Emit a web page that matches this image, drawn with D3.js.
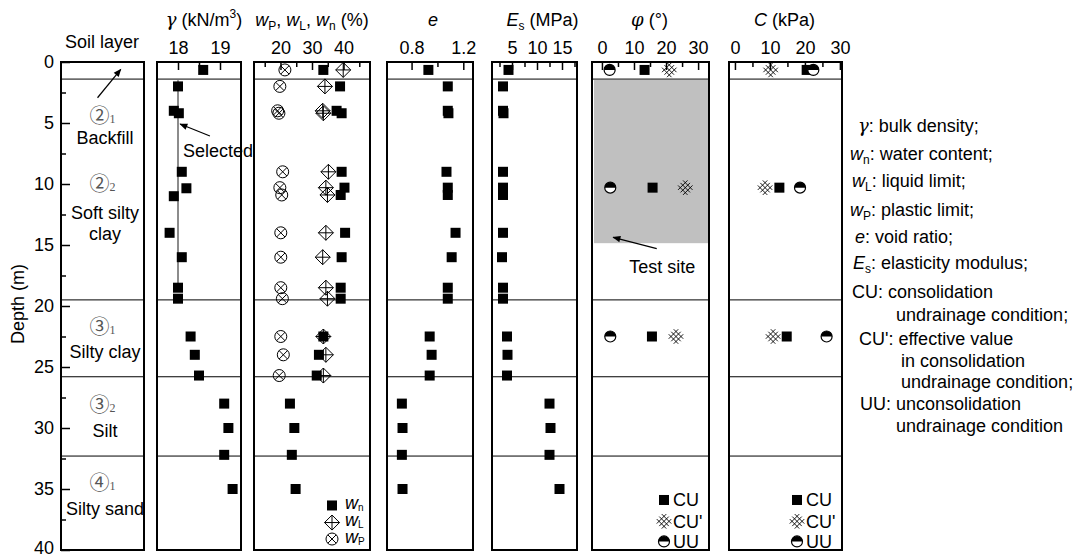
<!DOCTYPE html>
<html>
<head>
<script src="https://d3js.org/d3.v7.min.js"></script>
<style>
body { margin:0; background:#fff; }
svg text { font-family:"Liberation Sans", Arial, sans-serif; font-size:18px; fill:#000; }
.gr { font-family:"DejaVu Serif", "Liberation Serif", serif; font-style:italic; }
.circ { font-family:"Noto Sans CJK SC", "DejaVu Sans", sans-serif; fill:#555; }
</style>
</head>
<body>
<script>
// ---- data ----
var layerDepths = [1.4, 19.5, 25.8, 32.3];

var gammaDepth = [0.65, 2.0, 4.0, 4.2, 9.0, 10.35, 11.0, 14.0, 16.0, 18.5, 19.4, 22.5, 24.0, 25.7, 28.0, 30.0, 32.2, 35.0];
var gammaVal   = [18.6, 18.0, 17.9, 18.02, 18.09, 18.2, 17.9, 17.8, 18.09, 18.0, 18.0, 18.3, 18.4, 18.5, 19.1, 19.2, 19.1, 19.3];
var gammaSelected = 18.0;

var wDepth = [0.65, 2.0, 4.0, 4.2, 9.0, 10.3, 10.9, 14.0, 16.0, 18.5, 19.4, 22.5, 24.0, 25.7, 28.0, 30.0, 32.2, 35.0];
var wn = [33.6, 38.9, 37.8, 39.4, 39.4, 40.3, 39.1, 40.5, 39.4, 39.1, 39.1, 33.6, 32.2, 31.5, 23.0, 24.4, 23.6, 24.8];
var wL = [39.9, 34.1, 33.4, 33.6, 35.2, 34.4, 34.9, 34.4, 33.4, 34.4, 34.9, 33.6, 34.4, 33.6, null, null, null, null];
var wP = [21.4, 19.8, 19.1, 19.5, 20.7, 19.8, 20.4, 20.1, 20.1, 20.1, 20.6, 20.1, 20.9, 19.6, null, null, null, null];

var eDepth = [0.65, 2.0, 4.0, 4.2, 9.0, 10.3, 10.9, 14.0, 16.0, 18.5, 19.4, 22.5, 24.0, 25.7, 28.0, 30.0, 32.2, 35.0];
var eVal   = [0.93, 1.08, 1.08, 1.085, 1.07, 1.08, 1.08, 1.14, 1.11, 1.08, 1.08, 0.94, 0.955, 0.94, 0.725, 0.73, 0.725, 0.73];

var esDepth = [0.65, 2.0, 4.0, 4.2, 9.0, 10.3, 10.9, 14.0, 16.0, 18.5, 19.4, 22.5, 24.0, 25.7, 28.0, 30.0, 32.2, 35.0];
var esVal   = [4.3, 3.2, 3.2, 3.3, 3.2, 3.2, 3.2, 3.2, 3.0, 3.2, 3.2, 4.0, 4.1, 4.0, 12.5, 12.7, 12.5, 14.5];

var shearDepth = [0.65, 10.3, 22.5];
var phiCU  = [13.3, 15.8, 15.6];
var phiCUe = [21.0, 26.0, 23.1];
var phiUU  = [2.4, 2.6, 2.6];
var cCU  = [20.5, 12.7, 14.8];
var cCUe = [10.2, 8.6, 10.9];
var cUU  = [22.4, 18.6, 26.2];

var testSite = [1.47, 14.85];

var layerLabels = [
  {circ:"②", sub:"1", d:4.4, name:["Backfill"], nd:[6.2]},
  {circ:"②", sub:"2", d:10.0, name:["Soft silty", "clay"], nd:[12.35, 14.1]},
  {circ:"③", sub:"1", d:21.7, name:["Silty clay"], nd:[23.75]},
  {circ:"③", sub:"2", d:28.1, name:["Silt"], nd:[30.25]},
  {circ:"④", sub:"1", d:34.5, name:["Silty sand"], nd:[36.6]}
];

var notes = [
  [["γ","g"],[": bulk density;"]],
  [["w","i"],["n","s"],[": water content;"]],
  [["w","i"],["L","s"],[": liquid  limit;"]],
  [["w","i"],["P","s"],[": plastic limit;"]],
  [["e","i"],[": void ratio;"]],
  [["E","i"],["s","s"],[": elasticity modulus;"]],
  [["CU: consolidation"]],
  [["undrainage condition;"]],
  [["CU': effective value"]],
  [["in consolidation"]],
  [["undrainage condition;"]],
  [["UU: unconsolidation"]],
  [["undrainage condition"]]
];

// ---- layout ----
var W = 1080, H = 556;
var svg = d3.select("body").append("svg").attr("width", W).attr("height", H);
var y = d3.scaleLinear().domain([0, 40]).range([62, 550]);

var panels = [
  {id:"soil", x0:61, x1:144, domain:[0, 1]},
  {id:"gamma", x0:157, x1:241, domain:[17.5, 19.5], major:[18, 19], minor:[18.5], fmt:d3.format("d"), tdx:5,
   title:[["γ","g"],[" (kN/m"],["3","sup"],[")"]]},
  {id:"w", x0:254, x1:370, domain:[11.6, 48.4], major:[20, 30, 40], minor:[15, 25, 35, 45], fmt:d3.format("d"), tdx:0,
   title:[["w","i"],["P","s"],[", "],["w","i"],["L","s"],[", "],["w","i"],["n","s"],[" (%)"]]},
  {id:"e", x0:387, x1:473, domain:[0.61, 1.275], major:[0.8, 1.2], minor:[1.0], fmt:d3.format(".1f"), tdx:3,
   title:[["e","i"]]},
  {id:"es", x0:492, x1:577, domain:[1, 18], major:[5, 10, 15], minor:[2.5, 7.5, 12.5, 17.5], fmt:d3.format("d"), tdx:8,
   title:[["E","i"],["s","s"],[" (MPa)"]]},
  {id:"phi", x0:592, x1:709, domain:[-3.1, 33.4], major:[0, 10, 20, 30], minor:[5, 15, 25], fmt:d3.format("d"), tdx:-1,
   title:[["φ","g"],[" (°)"]]},
  {id:"c", x0:729, x1:842, domain:[-1.7, 30.6], major:[0, 10, 20, 30], minor:[5, 15, 25], fmt:d3.format("d"), tdx:-1,
   title:[["C","i"],[" (kPa)"]]}
];
var P = {};
panels.forEach(function(p) {
  p.x = d3.scaleLinear().domain(p.domain).range([p.x0, p.x1]);
  P[p.id] = p;
});

function rich(t, parts, subSize, subDy) {
  var cur = 0;
  subSize = subSize || 12;
  subDy = subDy || 4;
  parts.forEach(function(p) {
    var s = t.append("tspan").text(p[0]);
    var target = 0;
    if (p[1] === "i") s.style("font-style", "italic");
    if (p[1] === "g") s.attr("class", "gr");
    if (p[1] === "s") { s.attr("font-size", subSize); target = subDy; }
    if (p[1] === "sup") { s.attr("font-size", 12); target = -8; }
    if (target !== cur) s.attr("dy", target - cur);
    cur = target;
  });
  return t;
}

function sym(g, type) {
  if (type === "sq") {
    g.append("rect").attr("x", -5).attr("y", -5).attr("width", 10).attr("height", 10).attr("fill", "#000");
  } else if (type === "dia") {
    g.append("path").attr("d", "M0,-7.5L7.5,0L0,7.5L-7.5,0Z M0,-7.5V7.5 M-7.5,0H7.5")
      .attr("fill", "none").attr("stroke", "#000").attr("stroke-width", 1);
  } else if (type === "cx") {
    g.append("circle").attr("r", 6).attr("fill", "none").attr("stroke", "#000").attr("stroke-width", 1);
    g.append("path").attr("d", "M-4.2,-4.2L4.2,4.2M-4.2,4.2L4.2,-4.2").attr("stroke", "#000").attr("stroke-width", 1);
  } else if (type === "hatch") {
    var d = "", L = 9.5;
    [-5, 0, 5].forEach(function(c) {
      d += "M" + ((c - L) / 2) + "," + ((-L - c) / 2) + "L" + ((c + L) / 2) + "," + ((L - c) / 2);
      d += "M" + ((-L + c) / 2) + "," + ((c + L) / 2) + "L" + ((L + c) / 2) + "," + ((c - L) / 2);
    });
    g.append("path").attr("d", d).attr("stroke", "#000").attr("stroke-width", 0.9).attr("fill", "none");
  } else if (type === "uu") {
    g.append("circle").attr("r", 5.5).attr("fill", "#fff").attr("stroke", "#000").attr("stroke-width", 1.2);
    g.append("path").attr("d", "M-5.5,0A5.5,5.5 0 0 1 5.5,0Z").attr("fill", "#000");
  }
}

function points(p, depths, vals, type) {
  depths.forEach(function(d, i) {
    if (vals[i] == null) return;
    var g = svg.append("g").attr("transform", "translate(" + p.x(vals[i]) + "," + y(d) + ")");
    sym(g, type);
  });
}

// arrow head marker
svg.append("defs").append("marker").attr("id", "ah")
  .attr("viewBox", "0 0 10 10").attr("refX", 9).attr("refY", 5)
  .attr("markerWidth", 10).attr("markerHeight", 8).attr("orient", "auto")
  .attr("markerUnits", "userSpaceOnUse")
  .append("path").attr("d", "M0,1L10,5L0,9Z").attr("fill", "#000");

// test site shading under everything
svg.append("rect")
  .attr("x", P.phi.x0 + 2).attr("width", P.phi.x1 - P.phi.x0 - 3)
  .attr("y", y(testSite[0])).attr("height", y(testSite[1]) - y(testSite[0]))
  .attr("fill", "#c0c0c0");

// panels: frames, layer lines, top axes, titles
panels.forEach(function(p) {
  layerDepths.forEach(function(d) {
    svg.append("line").attr("x1", p.x0).attr("x2", p.x1).attr("y1", y(d)).attr("y2", y(d))
      .attr("stroke", "#000").attr("stroke-width", 1);
  });
  svg.append("rect").attr("x", p.x0).attr("y", y(0)).attr("width", p.x1 - p.x0).attr("height", y(40) - y(0))
    .attr("fill", "none").attr("stroke", "#000").attr("stroke-width", 2);
  if (p.id === "soil") return;
  var ax = svg.append("g").attr("transform", "translate(0," + y(0) + ")")
    .call(d3.axisTop(p.x).tickValues(p.major).tickSize(-8).tickPadding(8).tickFormat(p.fmt));
  ax.select(".domain").remove();
  ax.selectAll(".tick line").attr("stroke-width", 1.5);
  ax.selectAll("text").attr("font-size", 18).style("font-family", "Liberation Sans, Arial, sans-serif");
  var mn = svg.append("g").attr("transform", "translate(0," + y(0) + ")")
    .call(d3.axisTop(p.x).tickValues(p.minor).tickSize(-5).tickFormat(""));
  mn.select(".domain").remove();
  mn.selectAll(".tick line").attr("stroke-width", 1.5);
  rich(svg.append("text").attr("x", (p.x0 + p.x1) / 2 + p.tdx).attr("y", 26).attr("text-anchor", "middle"), p.title);
});
svg.append("text").attr("x", 102).attr("y", 48).attr("text-anchor", "middle").text("Soil layer");

// depth axis
var yAx = svg.append("g").attr("transform", "translate(" + P.soil.x0 + ",0)")
  .call(d3.axisLeft(y).tickValues(d3.range(0, 41, 5)).tickSize(-9).tickPadding(7));
yAx.select(".domain").remove();
yAx.selectAll(".tick line").attr("stroke-width", 1.5);
yAx.selectAll("text").attr("font-size", 18).attr("dy", function(d) { return d === 40 ? "0.2em" : "0.28em"; })
  .style("font-family", "Liberation Sans, Arial, sans-serif");
var yMn = svg.append("g").attr("transform", "translate(" + P.soil.x0 + ",0)")
  .call(d3.axisLeft(y).tickValues(d3.range(2.5, 40, 5)).tickSize(-5).tickFormat(""));
yMn.select(".domain").remove();
yMn.selectAll(".tick line").attr("stroke-width", 1.5);
svg.append("text").attr("transform", "translate(24," + 304 + ") rotate(-90)")
  .attr("text-anchor", "middle").text("Depth (m)");

// soil layer labels
layerLabels.forEach(function(l) {
  var t = svg.append("text").attr("x", P.soil.x(0.5)).attr("y", y(l.d) + 7).attr("text-anchor", "middle");
  t.append("tspan").attr("class", "circ").attr("font-size", 20).text(l.circ);
  t.append("tspan").attr("font-size", 12).attr("fill", "#555").style("font-family", "Liberation Serif, serif").text(l.sub);
  l.name.forEach(function(n, i) {
    svg.append("text").attr("x", P.soil.x(0.53)).attr("y", y(l.nd[i]) + 6).attr("text-anchor", "middle").text(n);
  });
});
svg.append("line").attr("x1", P.soil.x(0.44)).attr("y1", y(2.93))
  .attr("x2", P.soil.x(0.72)).attr("y2", y(0.6))
  .attr("stroke", "#000").attr("stroke-width", 1.2).attr("marker-end", "url(#ah)");

// gamma
svg.append("line").attr("x1", P.gamma.x(gammaSelected)).attr("x2", P.gamma.x(gammaSelected))
  .attr("y1", y(1.5)).attr("y2", y(18.5)).attr("stroke", "#666").attr("stroke-width", 1.5);
points(P.gamma, gammaDepth, gammaVal, "sq");
svg.append("line").attr("x1", P.gamma.x(18.76)).attr("y1", y(6.07))
  .attr("x2", P.gamma.x(18.05)).attr("y2", y(5.08))
  .attr("stroke", "#000").attr("stroke-width", 1.2).attr("marker-end", "url(#ah)");
svg.append("text").attr("x", P.gamma.x(18.12)).attr("y", y(7.3) + 6).text("Selected");

// water content
points(P.w, wDepth, wP, "cx");
points(P.w, wDepth, wL, "dia");
points(P.w, wDepth, wn, "sq");
var wLeg = [["sq", [["w","i"],["n","s"]]], ["dia", [["w","i"],["L","s"]]], ["cx", [["w","i"],["P","s"]]]];
var wLegY = [36.35, 37.75, 39.1];
wLeg.forEach(function(l, i) {
  sym(svg.append("g").attr("transform", "translate(" + (P.w.x1 - 38) + "," + y(wLegY[i]) + ")"), l[0]);
  rich(svg.append("text").attr("x", P.w.x1 - 25).attr("y", y(wLegY[i]) + 3.5).attr("font-size", 14), l[1], 10, 2);
});

// void ratio, modulus
points(P.e, eDepth, eVal, "sq");
points(P.es, esDepth, esVal, "sq");

// shear strength
[["phi", phiCUe, phiCU, phiUU], ["c", cCUe, cCU, cUU]].forEach(function(s) {
  var p = P[s[0]];
  points(p, shearDepth, s[1], "hatch");
  points(p, shearDepth, s[2], "sq");
  points(p, shearDepth, s[3], "uu");
  var leg = [["sq", "CU"], ["hatch", "CU'"], ["uu", "UU"]];
  var legY = [35.9, 37.65, 39.3];
  leg.forEach(function(l, i) {
    sym(svg.append("g").attr("transform", "translate(" + (p.x1 - 45) + "," + y(legY[i]) + ")"), l[0]);
    svg.append("text").attr("x", p.x1 - 36).attr("y", y(legY[i]) + 6.5).text(l[1]);
  });
});
svg.append("line").attr("x1", P.phi.x(17.1)).attr("y1", y(15.3))
  .attr("x2", P.phi.x(3.5)).attr("y2", y(14.37))
  .attr("stroke", "#000").attr("stroke-width", 1.2).attr("marker-end", "url(#ah)");
svg.append("text").attr("x", P.phi.x(8.5)).attr("y", y(16.8) + 6).text("Test site");

// notes on the right
var noteX = [858, 850, 852, 850, 855, 853, 852, 896, 859, 901, 901, 860, 896];
var noteY = [125, 153.3, 180.7, 209.3, 236, 262.7, 291, 314, 338.3, 360, 381.7, 403.3, 425];
notes.forEach(function(n, i) {
  rich(svg.append("text").attr("x", noteX[i]).attr("y", noteY[i] + 6.5).attr("font-size", 18.5), n);
});
</script>
</body>
</html>
